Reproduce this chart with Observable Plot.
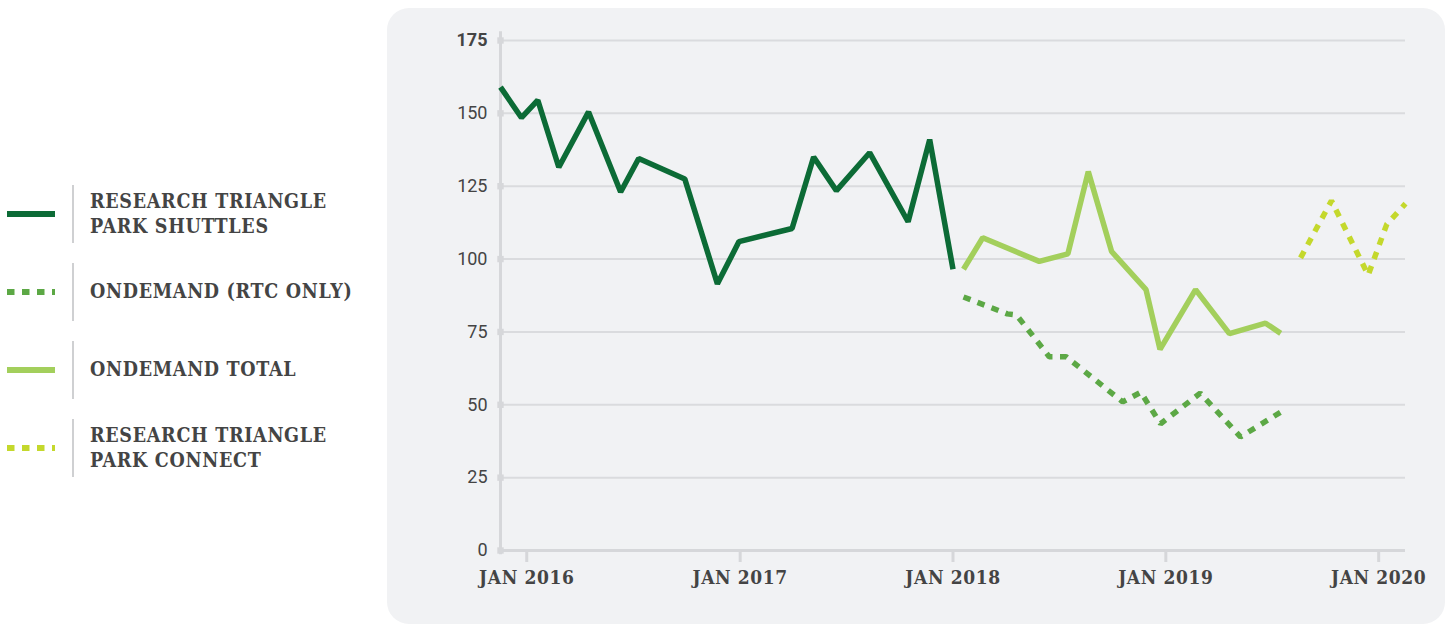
<!DOCTYPE html>
<html><head><meta charset="utf-8">
<script src="https://cdn.jsdelivr.net/npm/d3@7"></script>
<script src="https://cdn.jsdelivr.net/npm/@observablehq/plot@0.6"></script>
<style>
html,body{margin:0;padding:0;background:#fff;width:1450px;height:626px;overflow:hidden;}
#panel{position:absolute;left:387px;top:8px;width:1058px;height:616px;border-radius:22px;background:#f1f2f4;}
#chart{position:absolute;left:387px;top:0;}
.item{position:absolute;left:0;height:58px;width:380px;}
.item svg{position:absolute;left:7px;top:26px;}
.item .div{position:absolute;left:72px;top:0;width:2px;height:58px;background:#cfd0d2;}
.item .txt{position:absolute;left:90px;top:0;height:58px;display:flex;align-items:center;white-space:nowrap;
  font-family:"DejaVu Serif Condensed","DejaVu Serif",serif;font-weight:bold;font-size:19.5px;line-height:25.5px;color:#444;letter-spacing:0.7px;}
</style></head><body>
<div id="panel"></div>
<div id="chart"></div>
<div id="legend"></div>
<script>
// ---- data ----
const shuttleDates = ["2015-11-17","2015-12-23","2016-01-20","2016-02-25","2016-04-16","2016-06-10","2016-07-11","2016-09-28","2016-11-23","2016-12-30","2017-03-31","2017-05-07","2017-06-15","2017-08-11","2017-10-16","2017-11-22","2018-01-01"];
const shuttleValues = [159,148.5,154.5,131.5,150.5,123,134.5,127.5,91.5,106,110.5,135,123.5,136.5,112.8,141,96.5];

const rtcDates = ["2018-01-19","2018-04-04","2018-04-20","2018-06-15","2018-07-14","2018-10-19","2018-11-19","2018-12-23","2019-03-01","2019-05-09","2019-07-17"];
const rtcValues = [87,81.2,80.8,66.5,66.5,51,54.3,43.5,54,39,47.5];

const totalDates = ["2018-01-19","2018-02-21","2018-05-29","2018-07-17","2018-08-21","2018-09-30","2018-11-28","2018-12-22","2019-02-21","2019-04-20","2019-06-21","2019-07-17"];
const totalValues = [96.5,107.3,99.2,101.8,130,102.6,89.5,69,89.5,74.4,78,74.5];

const connectDates = ["2019-08-20","2019-10-12","2019-12-14","2020-01-15","2020-02-16"];
const connectValues = [100.4,120,94.5,112,119];

const yTicks = [0,25,50,75,100,125,150,175];
const xTickDates = ["2016-01-01","2017-01-01","2018-01-01","2019-01-01","2020-01-01"];
const xTickLabels = ["JAN 2016","JAN 2017","JAN 2018","JAN 2019","JAN 2020"];

const seriesNames = ["RESEARCH TRIANGLE<br>PARK SHUTTLES","ONDEMAND (RTC ONLY)","ONDEMAND TOTAL","RESEARCH TRIANGLE<br>PARK CONNECT"];
const seriesColors = ["#0c6b36","#5ca845","#a3cf5c","#c4d82c"];
const seriesDashed = [false,true,false,true];

// ---- build ----
const toRows = (ds, vs) => ds.map((d,i)=>({date:new Date(d), value:vs[i]}));
const series = [toRows(shuttleDates,shuttleValues), toRows(rtcDates,rtcValues), toRows(totalDates,totalValues), toRows(connectDates,connectValues)];
const xStart = new Date("2015-11-17"), xEnd = new Date("2020-02-16");
const tickDates = xTickDates.map(d=>new Date(d));
const grey = "#d6d7da";

const lineMarks = series.map((rows,i)=>Plot.line(rows,{x:"date",y:"value",stroke:seriesColors[i],strokeWidth:5.5,
  strokeDasharray: seriesDashed[i] ? "7.5,7.5" : null, strokeLinecap:"butt", strokeLinejoin:"miter"}));

const chart = Plot.plot({
  width:1063, height:626, marginLeft:113, marginRight:45, marginTop:40, marginBottom:76,
  style:{background:"transparent", overflow:"visible"},
  x:{type:"utc", domain:[xStart,xEnd]},
  y:{domain:[0,175]},
  marks:[
    Plot.ruleY(yTicks.filter(d=>d>0),{y:d=>d, x1:()=>xStart, x2:()=>xEnd, stroke:"#dadbde", strokeWidth:2}),
    Plot.ruleX([0],{x:()=>xStart, y1:()=>-1.5, y2:()=>178, stroke:grey, strokeWidth:3}),
    Plot.ruleY([0],{y:d=>d, x1:()=>xStart, x2:()=>xEnd, stroke:grey, strokeWidth:3}),
    Plot.dot(yTicks,{x:()=>xStart, y:d=>d, symbol:"square", r:3.6, fill:grey}),
    Plot.axisX({ticks:tickDates, tickFormat:d=>xTickLabels[tickDates.findIndex(t=>+t===+d)],
      tickSize:12, tickPadding:8, stroke:grey, strokeWidth:3, fill:"#444",
      fontSize:19, fontWeight:"bold", fontFamily:"DejaVu Serif Condensed, DejaVu Serif, serif"}),
    Plot.axisY({ticks:[], label:null}),
    Plot.text(yTicks.filter(d=>d<175),{x:()=>xStart, y:d=>d, text:d=>String(d), dx:-13, textAnchor:"end",
      fontSize:18, fontFamily:"Roboto, sans-serif", fill:"#444"}),
    Plot.text(yTicks.filter(d=>d===175),{x:()=>xStart, y:d=>d, text:d=>String(d), dx:-13, textAnchor:"end",
      fontSize:18, fontWeight:"bold", fontFamily:"Roboto, sans-serif", fill:"#444"}),
    ...lineMarks
  ]
});
d3.select(chart).selectAll("g[aria-label='x-axis tick label'] text").attr("letter-spacing","0.6px");
document.getElementById("chart").appendChild(chart);

// ---- legend ----
const legend = document.getElementById("legend");
seriesNames.forEach((name,i)=>{
  const item = document.createElement("div");
  item.className = "item";
  item.style.top = (185 + i*78) + "px";
  const dash = seriesDashed[i] ? 'stroke-dasharray="7.5,7.5"' : '';
  item.innerHTML = `<svg width="50" height="8"><line x1="0" x2="48" y1="3" y2="3" stroke="${seriesColors[i]}" stroke-width="6" ${dash}/></svg>
    <div class="div"></div><div class="txt"><div>${name}</div></div>`;
  legend.appendChild(item);
});
</script>
</body></html>
